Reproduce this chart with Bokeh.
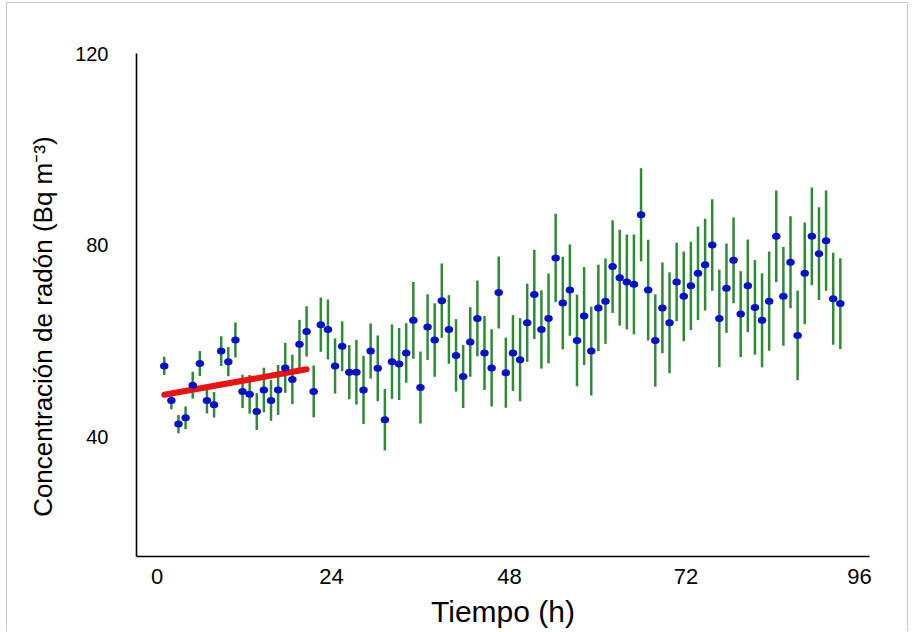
from bokeh.plotting import figure
from bokeh.models import FixedTicker, ColumnDataSource, Range1d
from bokeh.embed import file_html
from bokeh.resources import INLINE

# ---- data ----
HOURS = list(range(1, 97))
RADON = [54.9, 47.7, 42.8, 44.1, 50.9, 55.4, 47.7, 46.8, 58.0, 55.8,
         60.3, 49.6, 49.0, 45.4, 49.9, 47.7, 49.9, 54.5, 52.1, 59.4,
         62.1, 49.6, 63.5, 62.5, 54.9, 59.0, 53.6, 53.6, 49.9, 58.0,
         54.4, 43.7, 55.8, 55.3, 57.6, 64.4, 50.4, 63.0, 60.3, 68.5,
         62.5, 57.1, 52.7, 59.9, 64.8, 57.6, 54.5, 70.2, 53.5, 57.6,
         56.2, 63.9, 69.8, 62.5, 64.8, 77.4, 68.0, 70.7, 60.2, 65.3,
         58.0, 67.0, 68.4, 75.6, 73.3, 72.4, 71.9, 86.4, 70.7, 60.2,
         67.0, 63.9, 72.4, 69.4, 71.6, 74.2, 76.0, 80.1, 64.8, 71.1,
         76.9, 65.7, 71.6, 67.1, 64.4, 68.4, 81.9, 69.4, 76.5, 61.25,
         74.2, 81.9, 78.3, 81.0, 68.9, 67.9]
ERR = [1.9, 1.8, 1.9, 2.35, 2.8, 2.6, 2.7, 2.65, 3.1, 3.05,
       3.65, 3.45, 4.0, 3.85, 4.65, 4.25, 5.2, 5.2, 5.15, 5.1,
       5.25, 5.4, 5.65, 6.25, 5.75, 5.2, 5.65, 6.75, 7.1, 5.75,
       6.85, 6.4, 7.75, 7.5, 6.2, 8.0, 7.5, 6.85, 7.65, 7.75,
       7.15, 7.55, 6.55, 7.25, 7.9, 7.7, 8.05, 7.5, 7.3, 7.9,
       8.65, 8.15, 9.3, 8.15, 9.35, 9.2, 9.65, 9.5, 9.55, 10.2,
       9.25, 9.0, 8.9, 9.65, 10.0, 9.9, 10.4, 9.7, 10.5, 9.6,
       9.45, 10.5, 8.15, 9.35, 9.2, 9.75, 9.55, 9.55, 10.15, 9.3,
       8.95, 8.95, 9.65, 9.85, 9.8, 10.35, 9.55, 10.3, 9.6, 9.35,
       10.6, 10.2, 9.65, 10.45, 9.6, 9.45]
TREND_X = [1, 21]
TREND_Y = [48.9, 54.2]
XTICK_POS = [0, 24.5, 49.5, 74.3, 98.7]
XTICK_LABELS = ["0", "24", "48", "72", "96"]
YTICKS = [40, 80, 120]
Y_TITLE = "Concentración de radón (Bq m⁻³)"
X_TITLE = "Tiempo (h)"

lower = [r - e for r, e in zip(RADON, ERR)]
upper = [r + e for r, e in zip(RADON, ERR)]
src = ColumnDataSource(dict(x=HOURS, y=RADON, lo=lower, hi=upper))

FONT = "Liberation Sans"

p = figure(width=902, height=629, output_backend="svg", toolbar_location=None,
           x_range=Range1d(-2.9, 100.1), y_range=Range1d(15.2, 120),
           min_border_left=129, min_border_right=40,
           min_border_top=50, min_border_bottom=76,
           background_fill_color="white", border_fill_color="white",
           styles={"border-left": "1px solid #c8c8c8",
                   "border-right": "1px solid #c8c8c8",
                   "border-top": "1px solid #c8c8c8",
                   "margin-left": "6px", "margin-top": "2px"})
p.outline_line_color = None
p.grid.visible = False

p.segment(x0="x", y0="lo", x1="x", y1="hi", source=src,
          line_color="#2f8a35", line_width=2.5)
p.line(TREND_X, TREND_Y, line_color="#ee1111", line_width=6, line_cap="round")
p.ellipse(x="x", y="y", width=8.5, height=7, width_units="screen",
          height_units="screen", source=src, fill_color="#0710cc", line_color=None)

for ax in (p.xaxis[0], p.yaxis[0]):
    ax.axis_line_color = "black"
    ax.axis_line_width = 1.6
    ax.major_tick_line_color = None
    ax.minor_tick_line_color = None
    ax.major_label_text_font = FONT
    ax.major_label_text_color = "black"
    ax.axis_label_text_font = FONT
    ax.axis_label_text_font_style = "normal"
    ax.axis_label_text_color = "black"

p.xaxis.ticker = FixedTicker(ticks=XTICK_POS)
p.xaxis.major_label_overrides = {pos: lab for pos, lab in zip(XTICK_POS, XTICK_LABELS)}
p.xaxis.major_label_text_font_size = "22px"
p.xaxis.major_label_standoff = 6
p.xaxis.axis_label = X_TITLE
p.xaxis.axis_label_text_font_size = "30px"
p.xaxis.axis_label_standoff = 8

p.yaxis.ticker = FixedTicker(ticks=YTICKS)
p.yaxis.major_label_text_font_size = "20px"
p.yaxis.major_label_standoff = 22
# trailing no-break spaces move the centred title down to where the reference has it
p.yaxis.axis_label = Y_TITLE + "\u00a0" * 6
p.yaxis.axis_label_text_font_size = "26px"
p.yaxis.axis_label_standoff = 14

open("out.html", "w").write(file_html(p, INLINE))
